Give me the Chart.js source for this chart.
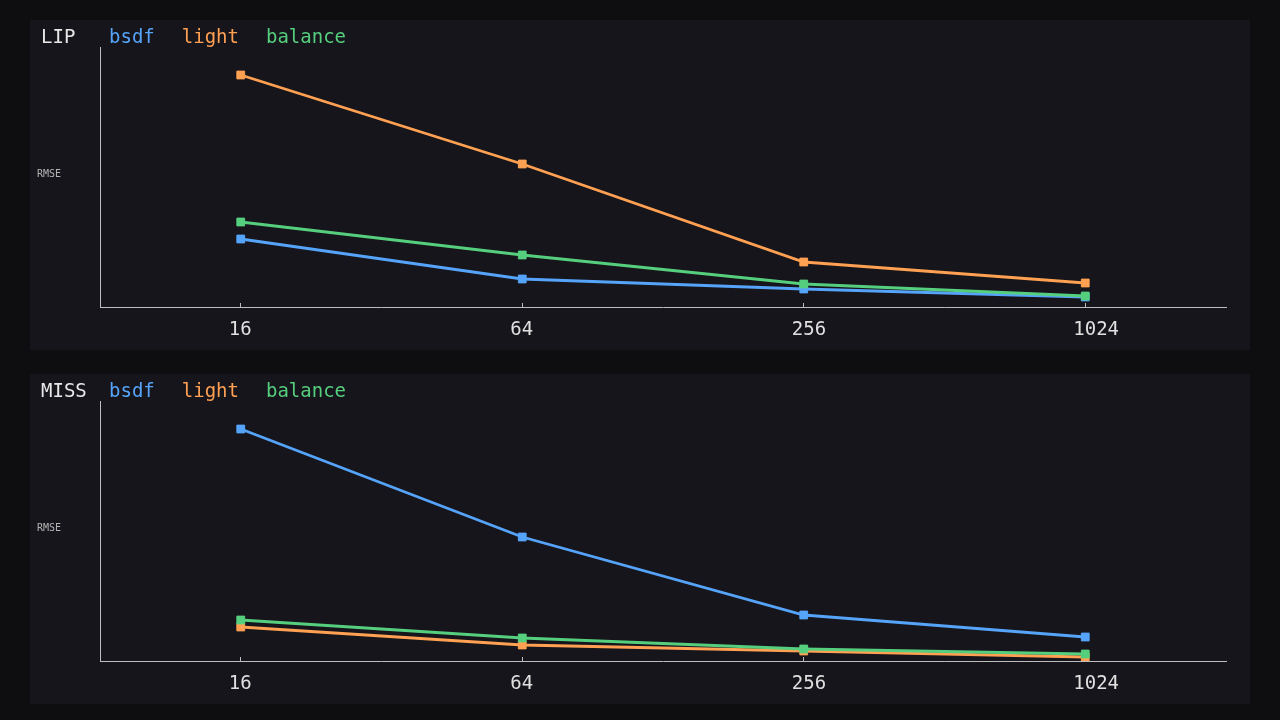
<!DOCTYPE html>
<html>
<head>
<meta charset="utf-8">
<script src="https://cdn.jsdelivr.net/npm/chart.js@4.4.1/dist/chart.umd.min.js"></script>
<style>
    html, body { margin: 0; width: 1280px; height: 720px; overflow: hidden; background: #0e0e10;
                 font-family: "DejaVu Sans Mono", monospace; }
    .panel { position: absolute; left: 30px; width: 1220px; height: 330px; background: #16151b; }
    .box { position: absolute; left: 0; top: 0; width: 1220px; height: 330px; }
    .title { position: absolute; left: 11px; top: 5px; font-size: 19px; line-height: 22px; color: #e8e8e8; }
    .legend { position: absolute; left: 79px; top: 5px; font-size: 19px; line-height: 22px; white-space: pre; }
    .legend span { margin-right: 27px; }
    .ylab { position: absolute; left: 7px; top: 148px; font-size: 10px; color: #b4b4b4; }
</style>
</head>
<body>

<div class="panel" style="top:20px">
    <div class="box"><canvas id="lipChart"></canvas></div>
    <div class="title">LIP</div>
    <div class="legend" id="lipLegend"></div>
    <div class="ylab">RMSE</div>
</div>

<div class="panel" style="top:374px">
    <div class="box"><canvas id="missChart"></canvas></div>
    <div class="title">MISS</div>
    <div class="legend" id="missLegend"></div>
    <div class="ylab">RMSE</div>
</div>

<script>
/* =========================
   DATA
========================= */
const sampleCounts = ["16", "64", "256", "1024"];
const seriesNames = ["bsdf", "light", "balance"];
const seriesColors = ["#55a4fa", "#ffa052", "#55cf7e"];

const lipBsdf    = [0.068, 0.028, 0.018, 0.010];
const lipLight   = [0.232, 0.143, 0.045, 0.024];
const lipBalance = [0.085, 0.052, 0.023, 0.011];

const missBsdf    = [0.232, 0.124, 0.046, 0.024];
const missLight   = [0.034, 0.016, 0.010, 0.004];
const missBalance = [0.041, 0.023, 0.012, 0.007];

const yMax = 0.26;

/* =========================
   CHARTS
========================= */
function makeChart(canvasId, legendId, series) {
    document.getElementById(legendId).innerHTML = seriesNames.map((n, i) =>
        `<span style="color:${seriesColors[i]}">${n}</span>`
    ).join("");

    new Chart(document.getElementById(canvasId), {
        type: "line",
        data: {
            labels: sampleCounts,
            datasets: series.map((d, i) => ({
                label: seriesNames[i],
                data: d,
                borderColor: seriesColors[i],
                backgroundColor: seriesColors[i],
                borderWidth: 2.8,
                pointStyle: "rect",
                pointRadius: 5.5,
                pointBorderWidth: 1,
                tension: 0,
                order: 3 - i
            }))
        },
        options: {
            responsive: true,
            maintainAspectRatio: false,
            animation: false,
            layout: { padding: { left: 70, right: 24, top: 27, bottom: 0 } },
            plugins: { legend: { display: false }, tooltip: { enabled: false } },
            scales: {
                x: {
                    offset: true,
                    grid: { offset: false, drawOnChartArea: false, tickLength: -4, color: "#bdbdbd", lineWidth: 1 },
                    border: { color: "#bdbdbd", width: 1 },
                    ticks: {
                        color: "#e0e0e0",
                        font: { family: "DejaVu Sans Mono", size: 19 },
                        align: "start",
                        labelOffset: -12,
                        padding: 16,
                        maxRotation: 0,
                        autoSkip: false
                    },
                    afterFit: s => { s.height = 43; }
                },
                y: {
                    min: 0,
                    max: yMax,
                    grid: { drawOnChartArea: false, drawTicks: false },
                    border: { color: "#bdbdbd", width: 1 },
                    ticks: { display: false },
                    afterFit: s => { s.width = 0; }
                }
            }
        }
    });
}

makeChart("lipChart", "lipLegend", [lipBsdf, lipLight, lipBalance]);
makeChart("missChart", "missLegend", [missBsdf, missLight, missBalance]);
</script>
</body>
</html>
